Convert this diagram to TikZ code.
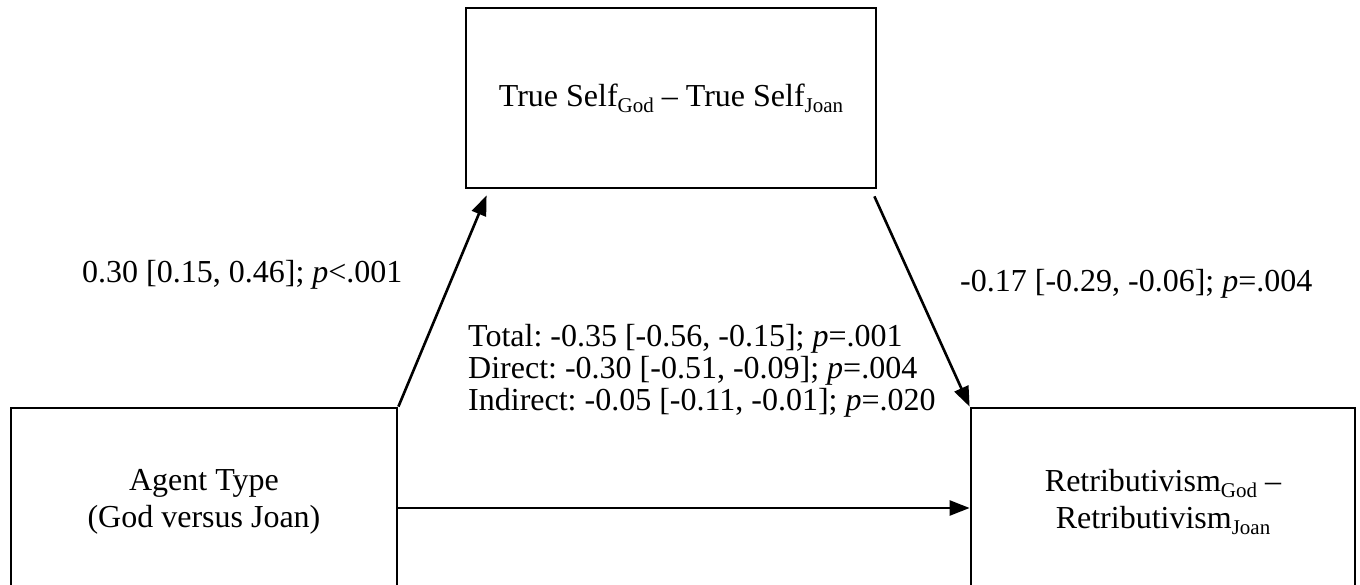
\documentclass[tikz,border=0pt]{standalone}
\usepackage{fontspec}
\setmainfont{Liberation Serif}
\usetikzlibrary{arrows.meta,calc}
\newcommand{\sbs}[1]{\raisebox{-0.4ex}{\fontsize{21}{21}\selectfont #1}}
\begin{document}
\begin{tikzpicture}[x=1pt,y=-1pt,
  varbox/.style={draw, line width=2.8pt, rectangle, align=center, inner sep=0pt, font=\fontsize{32}{37}\selectfont\frenchspacing},
  lbl/.style={font=\fontsize{32}{32}\selectfont\frenchspacing, inner sep=0pt},
  arr/.style={line width=2.6pt, -{Triangle[length=20pt,width=15pt]}}]
\useasboundingbox (0,0) rectangle (1360,585);
\clip (0,0) rectangle (1360,585);
\node[varbox, minimum width=410pt, minimum height=180pt] (T) at (671,98) {True Self\sbs{God} -- True Self\sbs{Joan}};
\node[varbox, minimum width=386pt, minimum height=188pt] (L) at (204,502) {Agent Type\\(God versus Joan)};
\node[varbox, minimum width=384pt, minimum height=188pt] (R) at (1163,502) {Retributivism\sbs{God} --\\Retributivism\sbs{Joan}};
\coordinate (t1) at ($(T.south west)+(22,6)$);
\coordinate (t2) at ($(T.south east)+(-3,7)$);
\draw[arr] (L.north east) -- (t1);
\draw[arr] (t2) -- (R.north west);
\draw[arr] (L.east |- 0,508) -- (R.west |- 0,508);
\node[lbl, anchor=base west] (a) at (82,283) {0.30 [0.15, 0.46]; \textit{p}<.001};
\node[lbl, anchor=base west] (b) at (960,292) {-0.17 [-0.29, -0.06]; \textit{p}=.004};
\node[lbl, anchor=base west, align=left] (c) at (468,346) {Total: -0.35 [-0.56, -0.15]; \textit{p}=.001};
\node[lbl, anchor=base west] (d) at (468,378) {Direct: -0.30 [-0.51, -0.09]; \textit{p}=.004};
\node[lbl, anchor=base west] (e) at (468,410) {Indirect: -0.05 [-0.11, -0.01]; \textit{p}=.020};
\end{tikzpicture}
\end{document}
